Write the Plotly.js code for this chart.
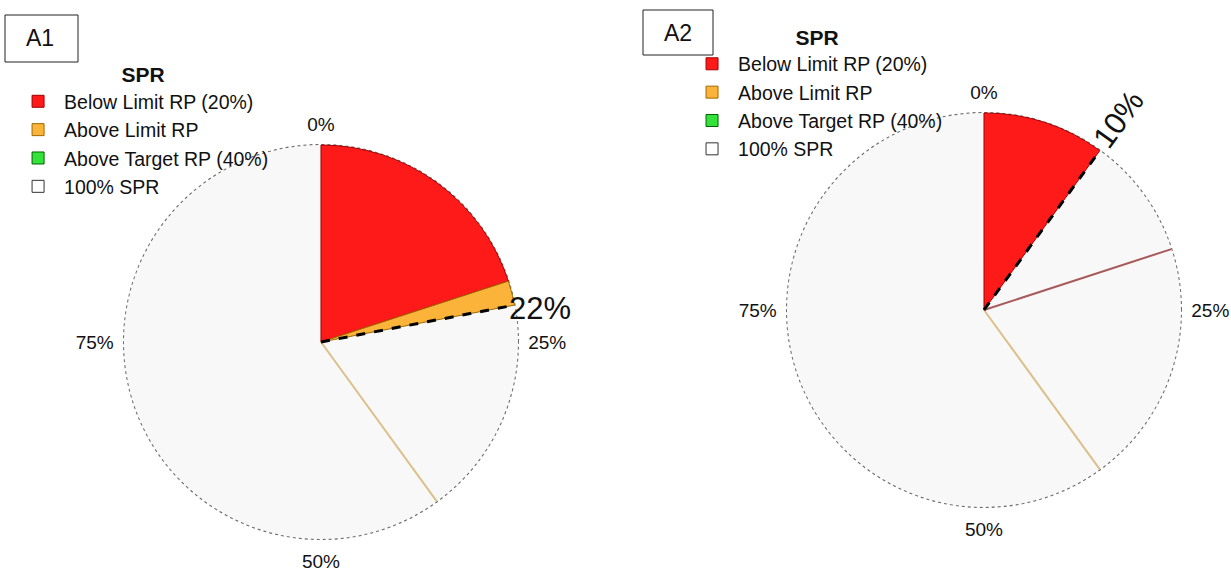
<!DOCTYPE html>
<html>
<head>
<meta charset="utf-8">
<script src="https://cdn.plot.ly/plotly-3.0.1.min.js"></script>
<style>html,body{margin:0;padding:0;background:#fff;}#chart{width:1231px;height:577px;}</style>
</head>
<body>
<div id="chart"></div>
<script>
// ---- data ----
const categories = ['Below Limit RP (20%)', 'Above Limit RP', 'Above Target RP (40%)', '100% SPR'];
const colors = ['#ff1a1a', '#fbb33a', '#33e33a', '#ffffff'];
const edgeColors = ['#a00000', '#a06a00', '#006000', '#333333'];
const a1Shares = [20, 2, 0, 78];   // percent of SPR circle
const a2Shares = [10, 0, 0, 90];
const a1Current = 22;               // current SPR (%)
const a2Current = 10;
const limitRP = 20;                 // limit reference point (%)
const targetRP = 40;                // target reference point (%)
const fullSPR = 100;
const tickPct = [0, 25, 50, 75];
const tickLabels = ['0%', '25%', '50%', '75%'];

const FONT = 'Liberation Sans, Arial, sans-serif';
const deg = p => p * 3.6;

function pieTraces(shares, current, polar, legend, showLimitLine) {
  // light background disc (the full 100% SPR circle)
  const traces = [{
    type: 'barpolar', subplot: polar, showlegend: false,
    r: [1], theta: [deg(fullSPR / 2)], width: [deg(fullSPR)],
    marker: { color: '#f8f8f8', line: { width: 0 } }, hoverinfo: 'skip'
  }];
  let start = 0;
  shares.forEach((s, i) => {
    const isFill = i === 3;
    traces.push({
      type: 'barpolar',
      subplot: polar,
      legend: legend,
      name: categories[i],
      r: [(s > 0 && !isFill) ? 1 : 0],
      theta: [deg(start + s / 2)],
      width: [deg(s)],
      marker: { color: colors[i], line: { color: edgeColors[i], width: 1 } },
      hoverinfo: 'name'
    });
    start += s;
  });
  const lineTrace = (pct, color, width, dash) => ({
    type: 'scatterpolar', subplot: polar, mode: 'lines', showlegend: false,
    r: [0, 1], theta: [deg(pct), deg(pct)],
    line: { color: color, width: width, dash: dash }, hoverinfo: 'skip'
  });
  traces.push(lineTrace(targetRP, '#dcc08a', 2, 'solid'));
  if (showLimitLine) traces.push(lineTrace(limitRP, '#a85a5a', 2, 'solid'));
  traces.push(lineTrace(current, '#000000', 3, 'dash'));
  return traces;
}

const data = [].concat(
  pieTraces(a1Shares, a1Current, 'polar', 'legend', false),
  pieTraces(a2Shares, a2Current, 'polar2', 'legend2', true)
);

function polarLayout(domain) {
  return {
    domain: domain,
    bgcolor: 'rgba(0,0,0,0)',
    barmode: 'overlay',
    bargap: 0,
    angularaxis: {
      direction: 'clockwise', rotation: 90,
      tickvals: tickPct.map(deg), ticktext: tickLabels,
      showgrid: false, showline: false, ticks: 'outside', ticklen: 2, tickcolor: 'rgba(0,0,0,0)',
      tickfont: { family: FONT, size: 19, color: '#111' }
    },
    radialaxis: {
      range: [0, 1.02], tickvals: [1], showticklabels: false, ticks: '',
      showline: false, showgrid: true, gridcolor: '#6e6e6e', gridwidth: 2, griddash: 'dot',
      layer: 'above traces'
    }
  };
}

function legendLayout(x, y) {
  return {
    x: x, y: y, xanchor: 'left', yanchor: 'top',
    bgcolor: 'rgba(0,0,0,0)',
    itemwidth: 42,
    font: { family: FONT, size: 19.5, color: '#111' },
    title: { text: '<b>SPR</b>', side: 'top center', font: { family: FONT, size: 21, color: '#111' } },
    itemclick: false
  };
}

const layout = {
  width: 1231, height: 577,
  margin: { l: 0, r: 0, t: 0, b: 0 },
  paper_bgcolor: '#ffffff',
  showlegend: true,
  polar: polarLayout({ x: [0.0975, 0.4240], y: [0.0589, 0.7556] }),
  polar2: polarLayout({ x: [0.6361, 0.9626], y: [0.1144, 0.8111] }),
  legend: legendLayout(0.0098, 0.905),
  legend2: legendLayout(0.5573, 0.970),
  shapes: [
    { type: 'rect', xref: 'paper', yref: 'paper', x0: 5 / 1231, x1: 78 / 1231, y0: 1 - 62 / 577, y1: 1 - 15 / 577, line: { color: '#222', width: 1 } },
    { type: 'rect', xref: 'paper', yref: 'paper', x0: 643 / 1231, x1: 713 / 1231, y0: 1 - 55 / 577, y1: 1 - 10 / 577, line: { color: '#222', width: 1 } }
  ],
  annotations: [
    { xref: 'paper', yref: 'paper', x: 40 / 1231, y: 1 - 38 / 577, xanchor: 'center', yanchor: 'middle', text: 'A1', showarrow: false, font: { family: FONT, size: 23, color: '#111' } },
    { xref: 'paper', yref: 'paper', x: 678 / 1231, y: 1 - 33 / 577, xanchor: 'center', yanchor: 'middle', text: 'A2', showarrow: false, font: { family: FONT, size: 23, color: '#111' } },
    { xref: 'paper', yref: 'paper', x: 540 / 1231, y: 1 - 308 / 577, xanchor: 'center', yanchor: 'middle', text: a1Current + '%', showarrow: false, font: { family: FONT, size: 31, color: '#111' } },
    { xref: 'paper', yref: 'paper', x: 1118 / 1231, y: 1 - 119 / 577, xanchor: 'center', yanchor: 'middle', text: a2Current + '%', textangle: -54, showarrow: false, font: { family: FONT, size: 31, color: '#111' } }
  ]
};

Plotly.newPlot('chart', data, layout, { displayModeBar: false, staticPlot: true });
</script>
</body>
</html>
